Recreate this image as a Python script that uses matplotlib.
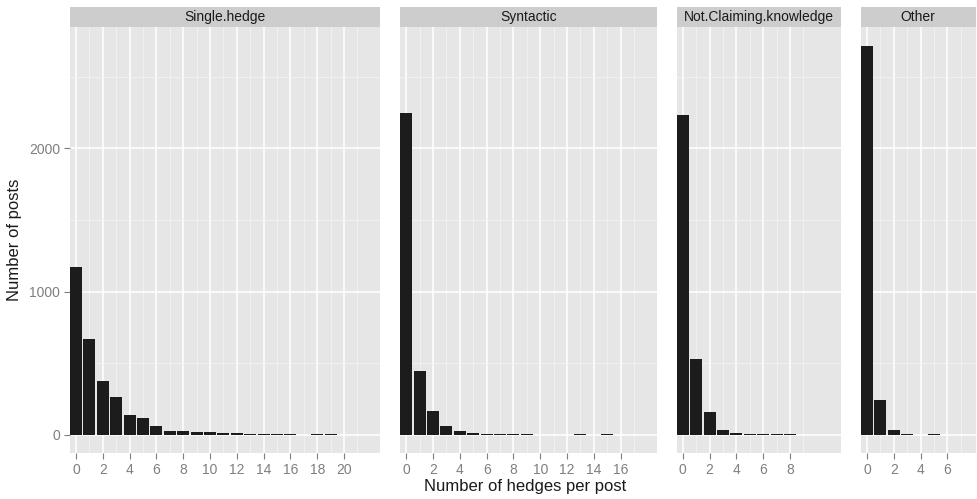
import matplotlib
matplotlib.use("Agg")
import matplotlib.pyplot as plt
import numpy as np

plt.rcParams['font.family'] = ['Liberation Sans', 'DejaVu Sans']

# facet names and counts of posts per number of hedges
facets = ["Single.hedge", "Syntactic", "Not.Claiming.knowledge", "Other"]
single_hedge = [1175, 668, 377, 267, 140, 116, 63, 30, 26, 19, 21, 12, 12, 8, 8, 8, 6, 0, 6, 4]
syntactic = [2245, 447, 165, 65, 28, 14, 8, 6, 6, 6, 0, 0, 0, 6, 0, 6]
not_claiming = [2235, 530, 158, 33, 14, 9, 6, 6, 6]
other = [2710, 242, 33, 6, 0, 6]
counts = [single_hedge, syntactic, not_claiming, other]

# x limits of each facet (free scales, free space)
x_right = [22.7, 18.7, 11.8, 8.1]
x_breaks = [list(range(0, 21, 2)), list(range(0, 17, 2)), list(range(0, 9, 2)), list(range(0, 7, 2))]

W, H = 978, 499
fig = plt.figure(figsize=(W / 100, H / 100), dpi=100)

px_per_unit = 13.4
left_px = 70
gap_px = 20
top_px, bottom_px = 27, 453
strip_px = 20
y_lo, y_hi = -125.6, 2846

panel_bg = "#E6E6E6"
strip_bg = "#CDCDCD"

for i, name in enumerate(facets):
    x_lo = -0.45
    width_px = (x_right[i] - x_lo) * px_per_unit
    ax = fig.add_axes([left_px / W, 1 - bottom_px / H, width_px / W, (bottom_px - top_px) / H])
    vals = counts[i]
    ax.bar(np.arange(len(vals)), vals, width=0.9, color="#1C1C1C", edgecolor="none", zorder=3)
    ax.set_xlim(x_lo, x_right[i])
    ax.set_ylim(y_lo, y_hi)
    ax.set_facecolor(panel_bg)
    for s in ax.spines.values():
        s.set_visible(False)

    # grid: major white, minor lighter
    ax.set_xticks(x_breaks[i])
    ax.set_xticks([b + 1 for b in x_breaks[i] if b + 1 < x_right[i]], minor=True)
    ax.set_yticks([0, 1000, 2000])
    ax.set_yticks([500, 1500, 2500], minor=True)
    ax.grid(which="major", color="white", linewidth=1.1, zorder=0)
    ax.grid(which="minor", color="#F3F3F3", linewidth=0.6, zorder=0)
    ax.tick_params(which="minor", length=0)
    ax.tick_params(which="major", length=4, width=0.8, color="#7F7F7F",
                   labelcolor="#7F7F7F", labelsize=10, pad=3)
    ax.set_xticklabels([str(b) for b in x_breaks[i]])
    if i == 0:
        ax.set_yticklabels(["0", "1000", "2000"])
    else:
        ax.tick_params(axis="y", which="major", length=0, labelleft=False)

    # facet strip
    sax = fig.add_axes([left_px / W, 1 - top_px / H, width_px / W, strip_px / H])
    sax.set_facecolor(strip_bg)
    sax.set_xticks([])
    sax.set_yticks([])
    for s in sax.spines.values():
        s.set_visible(False)
    sax.text(0.5, 0.5, name, ha="center", va="center", fontsize=10, color="#1A1A1A",
             transform=sax.transAxes)

    left_px += width_px + gap_px

fig.text(525 / W, 1 - 487 / H, "Number of hedges per post", ha="center", va="center",
         fontsize=12, color="#1A1A1A")
fig.text(15 / W, 1 - 240 / H, "Number of posts", ha="center", va="center",
         rotation=90, fontsize=12, color="#1A1A1A")

fig.savefig("out.png", dpi=100, facecolor="white")
